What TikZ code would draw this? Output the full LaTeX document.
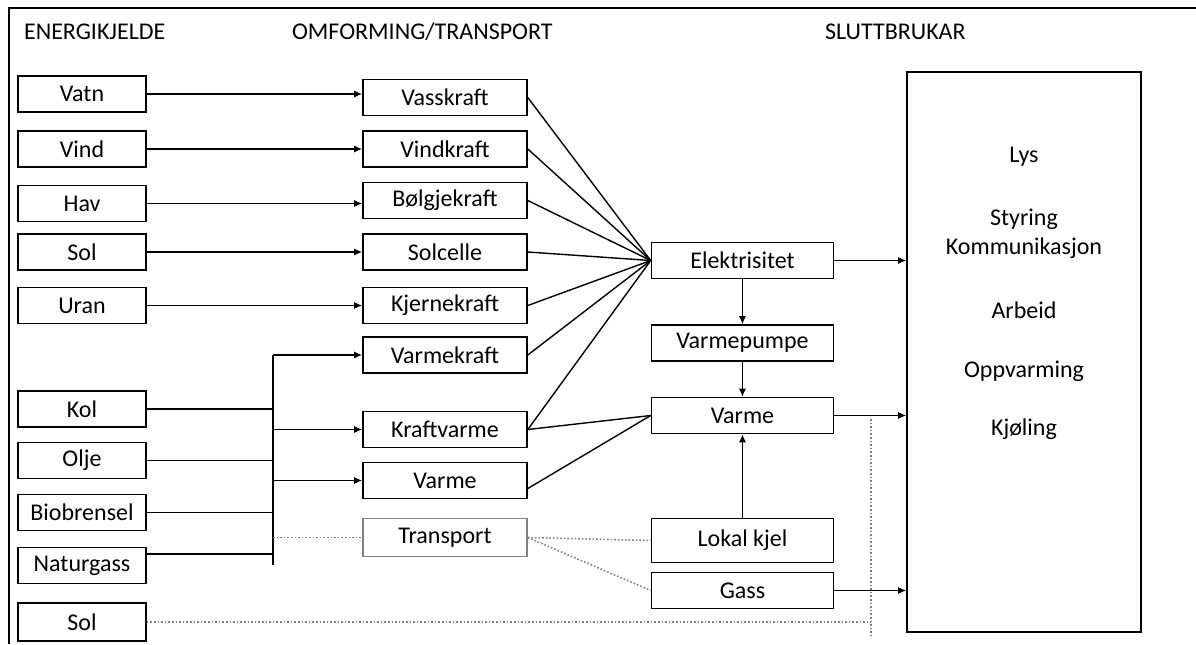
\documentclass[tikz,border=0pt]{standalone}
\usepackage{fontspec}
\setmainfont{Carlito}
\usetikzlibrary{arrows.meta}
\begin{document}
\begin{tikzpicture}[x=0.5pt,y=-0.5pt,
    >={Latex[length=4pt,width=3.5pt]},
    every node/.style={font=\fontsize{12}{14}\selectfont},
    boks/.style={draw,line width=0.8pt,inner sep=0pt,minimum height=18pt},
    kjelde/.style={boks,minimum width=64pt},
    omform/.style={boks,minimum width=82pt},
    slutt/.style={boks,minimum width=91pt},
    pil/.style={->,line width=0.7pt},
    linje/.style={line width=0.7pt},
    prikk/.style={densely dotted,line width=0.8pt,gray}]
        \useasboundingbox (0,0) rectangle (1196,644);
        %ramme
        \draw [line width=1pt](1196,8) -- (9,8) -- (9,644);
        \node [anchor=base west] (h1) at (17,39) {ENERGIKJELDE};
        \node [anchor=base west] (h2) at (285,39) {OMFORMING/TRANSPORT};
        \node [anchor=base west] (h3) at (818,39) {SLUTTBRUKAR};
        %energikjelde
        \node [kjelde] (vatn) at (82,94) {Vatn};
        \node [kjelde] (vind) at (82,149) {Vind};
        \node [kjelde] (hav) at (82,203.5) {Hav};
        \node [kjelde] (sol) at (82,252) {Sol};
        \node [kjelde] (uran) at (82,305.5) {Uran};
        \node [kjelde] (kol) at (82,409) {Kol};
        \node [kjelde] (olje) at (82,460.5) {Olje};
        \node [kjelde] (bio) at (82,512.5) {Biobrensel};
        \node [kjelde] (gass0) at (82,565.5) {Naturgass};
        \node [kjelde,minimum height=19pt] (sol2) at (82,622) {Sol};
        %omforming
        \node [omform] (vass) at (445,97.5) {Vasskraft};
        \node [omform] (vindk) at (445,149) {Vindkraft};
        \node [omform] (bolgje) at (445,200.5) {Bølgjekraft};
        \node [omform] (solc) at (445,252) {Solcelle};
        \node [omform] (kjerne) at (445,305.5) {Kjernekraft};
        \node [omform] (vkraft) at (445,355) {Varmekraft};
        \node [omform] (kvarme) at (445,429.5) {Kraftvarme};
        \node [omform] (varmeM) at (445,480.5) {Varme};
        \node [omform,draw=gray,minimum height=19pt] (transp) at (445,537.5) {Transport};
        %sluttbrukar
        \node [slutt] (elek) at (742.5,260.5) {Elektrisitet};
        \node [slutt] (vpumpe) at (742.5,343) {Varmepumpe};
        \node [slutt] (varmeR) at (742.5,415.5) {Varme};
        \node [slutt,minimum height=22pt] (kjel) at (742.5,540.5) {Lokal kjel};
        \node [slutt] (gass) at (742.5,590.5) {Gass};
        \node [draw,line width=0.8pt,minimum width=117pt,minimum height=280pt] (bruk) at (1024,352) {};
        \node (lys) at (1024,157) {Lys};
        \node (styr) at (1024,219) {Styring};
        \node (komm) at (1024,248) {Kommunikasjon};
        \node (arb) at (1024,310) {Arbeid};
        \node (oppv) at (1024,371) {Oppvarming};
        \node (kjol) at (1024,429) {Kjøling};
        %piler
        \draw [pil] (vatn.east) -- (vatn.east -| vass.west);
        \draw [pil] (vind.east) -- (vind.east -| vindk.west);
        \draw [pil] (hav.east) -- (hav.east -| bolgje.west);
        \draw [pil] (sol.east) -- (sol.east -| solc.west);
        \draw [pil] (uran.east) -- (uran.east -| kjerne.west);
        %samleskinne
        \coordinate (bus) at (273,565);
        \coordinate (bn) at (273,554);
        \draw [linje] (vkraft.west -| bus) -- (bus);
        \draw [linje] (kol.east) -- (kol.east -| bus);
        \draw [linje] (olje.east) -- (olje.east -| bus);
        \draw [linje] (bio.east) -- (bio.east -| bus);
        \draw [linje] (bn -| gass0.east) -- (bn);
        \draw [pil] (vkraft.west -| bus) -- (vkraft.west);
        \draw [pil] (kvarme.west -| bus) -- (kvarme.west);
        \draw [pil] (varmeM.west -| bus) -- (varmeM.west);
        \draw [prikk] (transp.west -| bus) -- (transp.west);
        %elektrisitet
        \foreach \n in {vass,vindk,bolgje,solc,kjerne,vkraft,kvarme}
            \draw [linje] (\n.east) -- (elek.west);
        \draw [linje] (kvarme.east) -- (varmeR.west);
        \draw [linje] ([yshift=-4pt]varmeM.east) -- (varmeR.west);
        \draw [pil] (elek.south) -- (vpumpe.north);
        \draw [pil] (vpumpe.south) -- (varmeR.north);
        \draw [pil] (kjel.north) -- (varmeR.south);
        \draw [prikk] (transp.east) -- (kjel.west);
        \draw [prikk] (transp.east) -- (gass.west);
        %til sluttbrukar
        \coordinate (dtop) at (871,419);
        \coordinate (dbot) at (871,636);
        \draw [prikk] (dtop) -- (dbot);
        \draw [prikk] (sol2.east) -- (sol2.east -| dtop);
        \draw [pil] (elek.east) -- (elek.east -| bruk.west);
        \draw [pil] (varmeR.east) -- (varmeR.east -| bruk.west);
        \draw [pil] (gass.east) -- (gass.east -| bruk.west);
    \end{tikzpicture}
\end{document}
